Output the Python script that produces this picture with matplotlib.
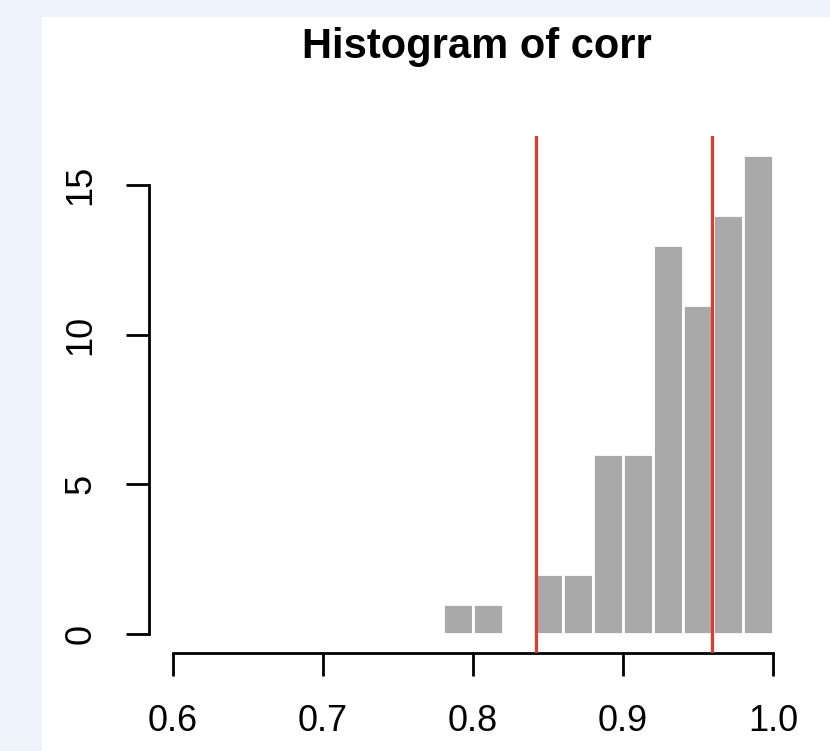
import matplotlib
matplotlib.use("Agg")
import matplotlib.pyplot as plt
from matplotlib.patches import Rectangle

# --- DATA ---
bin_edges = [0.78, 0.80, 0.82, 0.84, 0.86, 0.88, 0.90, 0.92, 0.94, 0.96, 0.98, 1.00]
counts    = [1, 1, 0, 2, 2, 6, 6, 13, 11, 14, 16]
vlines    = [0.842, 0.959]
x_ticks   = [0.6, 0.7, 0.8, 0.9, 1.0]
x_labels  = ["0.6", "0.7", "0.8", "0.9", "1.0"]
y_ticks   = [0, 5, 10, 15]
y_labels  = ["0", "5", "10", "15"]
title     = "Histogram of corr"
# -------------

BAR_COLOR = "#a9a9a9"
RED       = "#e33b2b"
BG        = "#eef3fc"

plt.rcParams["font.family"] = ["Liberation Sans", "DejaVu Sans"]

W, H = 830, 751
fig = plt.figure(figsize=(W / 100, H / 100), dpi=100)
fig.patch.set_facecolor(BG)

# white panel behind everything
fig.patches.append(Rectangle((42 / W, 0), 1 - 42 / W, 1 - 17 / H,
                             transform=fig.transFigure, facecolor="white",
                             edgecolor="none", zorder=-10))

ax = fig.add_axes([149 / W, (H - 653) / H, (797 - 149) / W, (653 - 136) / H])
ax.set_zorder(5)
ax.set_facecolor("none")

widths = [b - a for a, b in zip(bin_edges[:-1], bin_edges[1:])]
ax.bar(bin_edges[:-1], counts, width=widths, align="edge",
       color=BAR_COLOR, edgecolor="white", linewidth=2.0, zorder=2)

for v in vlines:
    ax.axvline(v, color=RED, lw=2.3, zorder=3)

ax.set_xlim(0.584, 1.016)
ax.set_ylim(-0.64, 16.64)

for s in ["top", "right"]:
    ax.spines[s].set_visible(False)
for s in ["left", "bottom"]:
    ax.spines[s].set_linewidth(2.0)
    ax.spines[s].set_color("black")
ax.spines["left"].set_bounds(0, 15)
ax.spines["bottom"].set_bounds(0.6, 1.0)

ax.set_xticks(x_ticks)
ax.set_xticklabels(x_labels)
ax.set_yticks(y_ticks)
ax.set_yticklabels(y_labels, rotation=90, va="center")
ax.tick_params(axis="both", direction="out", length=16.5, width=2.0,
               labelsize=26, pad=20, color="black")

fig.text(477 / W, (H - 58) / H, title, ha="center", va="baseline",
         fontsize=30, fontweight="bold", zorder=10)

fig.savefig("out.png", dpi=100, facecolor=fig.get_facecolor())
